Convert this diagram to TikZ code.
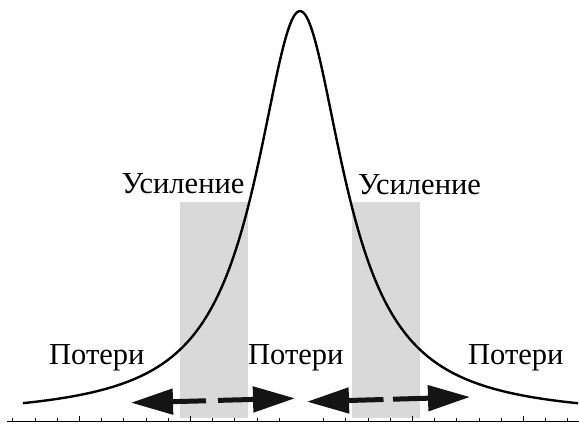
\documentclass[tikz,border=0pt]{standalone}
\usepackage{fontspec}
\setmainfont{Liberation Serif}
\usetikzlibrary{arrows.meta}
\begin{document}
\begin{tikzpicture}[x=1pt, y=-1pt,
  band/.style={fill=gray!30, draw=none},
  lbl/.style={anchor=base west, inner sep=0pt, font=\fontsize{30.5}{36}\selectfont},
  shiftarrow/.style={line width=5pt, color=black!92, -{Triangle[length=42pt,width=25pt]}}]
\useasboundingbox (0,0) rectangle (579,425);
% gain bands
\fill[band] (179.5,202) rectangle (247.5,417.5);
\fill[band] (352,202) rectangle (420,417.5);
% axis with ticks
\draw[line width=0.9pt] (7,421.5) -- (579,421.5);
\foreach \k in {0,...,25} {
  \pgfmathtruncatemacro\r{mod(\k,5)}
  \ifnum\k=13 \else
    \ifnum\r=3
      \draw[line width=0.8pt] (12.7+22.2*\k,421.5) -- (12.7+22.2*\k,416);
    \else
      \draw[line width=0.8pt] (12.7+22.2*\k,421.5) -- (12.7+22.2*\k,417.8);
    \fi
  \fi
}
% gain line
\draw[line width=2.4pt, domain=23:578, samples=240, smooth]
  plot (\x, {418-407/(1+((\x-300)/53.9)^2)});
% labels
\node[lbl] (gainL) at (121.5,194) {Усиление};
\node[lbl] (gainR) at (358,195) {Усиление};
\node[lbl] (lossL) at (49,364.5) {Потери};
\node[lbl] (lossM) at (248,364.5) {Потери};
\node[lbl] (lossR) at (468,364.5) {Потери};
% shift arrows
\coordinate (tipA) at (131,402.7);
\coordinate (gapA1) at (206,400.8);
\coordinate (gapA2) at (218,400.4);
\coordinate (tipB) at (295,398.3);
\coordinate (tipC) at (307,401.7);
\coordinate (gapC1) at (383.5,399.5);
\coordinate (gapC2) at (393,399.2);
\coordinate (tipD) at (470,397);
\draw[shiftarrow] (gapA1) -- (tipA);
\draw[shiftarrow] (gapA2) -- (tipB);
\draw[shiftarrow] (gapC1) -- (tipC);
\draw[shiftarrow] (gapC2) -- (tipD);
\end{tikzpicture}
\end{document}
